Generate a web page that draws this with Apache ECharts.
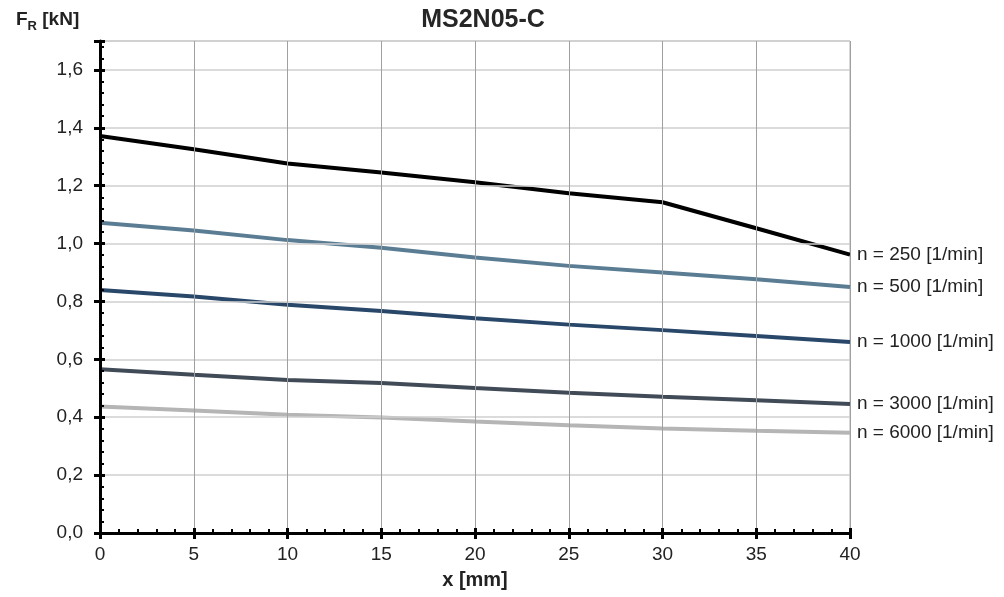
<!DOCTYPE html>
<html>
<head>
<meta charset="utf-8">
<script src="https://cdn.jsdelivr.net/npm/echarts@6/dist/echarts.min.js"></script>
<style>html,body{margin:0;padding:0;background:#fff}#c{width:1004px;height:597px}</style>
</head>
<body>
<div id="c"></div>
<script>
var xValues = [0, 5, 10, 15, 20, 25, 30, 35, 40];
var n250  = [1.372, 1.326, 1.277, 1.246, 1.212, 1.174, 1.143, 1.053, 0.962];
var n500  = [1.072, 1.045, 1.012, 0.986, 0.952, 0.923, 0.900, 0.877, 0.850];
var n1000 = [0.840, 0.817, 0.789, 0.767, 0.742, 0.720, 0.701, 0.681, 0.660];
var n3000 = [0.566, 0.547, 0.529, 0.518, 0.501, 0.485, 0.471, 0.459, 0.446];
var n6000 = [0.437, 0.423, 0.409, 0.399, 0.385, 0.372, 0.361, 0.353, 0.346];
var seriesNames = ['n = 250 [1/min]', 'n = 500 [1/min]', 'n = 1000 [1/min]', 'n = 3000 [1/min]', 'n = 6000 [1/min]'];
var seriesColors = ['#000000', '#5a7d94', '#284769', '#414b57', '#b5b5b5'];
var yTickLabels = ['0,0', '0,2', '0,4', '0,6', '0,8', '1,0', '1,2', '1,4', '1,6'];

var allData = [n250, n500, n1000, n3000, n6000];
var font = 'Liberation Sans, Arial, sans-serif';
var chart = echarts.init(document.getElementById('c'));

function pairs(arr) { return arr.map(function (v, i) { return [xValues[i], v]; }); }

var series = allData.map(function (d, i) {
  return {
    type: 'line', name: seriesNames[i], data: pairs(d),
    xAxisIndex: 0, yAxisIndex: 0,
    showSymbol: false, symbol: 'none',
    lineStyle: { color: seriesColors[i], width: 4 },
    itemStyle: { color: seriesColors[i] },
    endLabel: { show: true, formatter: seriesNames[i], color: '#222', fontSize: 19, fontFamily: font, distance: 7 },
    z: 5 - i + 3
  };
});

var yLabelFmt = function (v) {
  var idx = Math.round(v / 0.2);
  return (Math.abs(v - idx * 0.2) < 1e-6 && idx < yTickLabels.length) ? yTickLabels[idx] : '';
};

chart.setOption({
  animation: false,
  backgroundColor: '#fff',
  title: [
    { text: 'MS2N05-C', left: 478, top: 3, textAlign: 'center',
      textStyle: { fontFamily: font, fontSize: 25, fontWeight: 'bold', color: '#262626' } },
    { text: '{b|F}{s|R}{b| [kN]}', left: 11, top: 5,
      textStyle: { rich: {
        b: { fontFamily: font, fontSize: 19, fontWeight: 'bold', color: '#222', verticalAlign: 'bottom' },
        s: { fontFamily: font, fontSize: 13, fontWeight: 'bold', color: '#222', verticalAlign: 'bottom', padding: [0, 0, -4, 0] }
      } } }
  ],
  grid: { left: 100, right: 154, top: 41, bottom: 64, show: true, borderColor: '#b0b0b0', borderWidth: 1 },
  xAxis: [
    { type: 'value', min: 0, max: 40, interval: 5,
      name: 'x [mm]', nameLocation: 'middle', nameGap: 37,
      nameTextStyle: { fontFamily: font, fontSize: 20, fontWeight: 'bold', color: '#222' },
      axisLine: { show: true, onZero: false, lineStyle: { color: '#000', width: 3 } },
      axisTick: { show: true, inside: true, length: 5, lineStyle: { color: '#000', width: 3 } },
      minorTick: { show: true, splitNumber: 5, length: 4, lineStyle: { color: '#000', width: 2 } },
      axisLabel: { fontFamily: font, fontSize: 19, color: '#222', margin: 12 },
      splitLine: { show: true, lineStyle: { color: '#a0a0a0', width: 1 } },
      z: 10 },
    { type: 'value', min: 0, max: 40, interval: 5, position: 'bottom', gridIndex: 0,
      axisLine: { show: false, onZero: false },
      axisTick: { show: true, inside: false, length: 6, lineStyle: { color: '#000', width: 3 } },
      axisLabel: { show: false }, splitLine: { show: false }, z: 10 }
  ],
  yAxis: [
    { type: 'value', min: 0, max: 1.7, interval: 0.2,
      axisLine: { show: true, onZero: false, lineStyle: { color: '#000', width: 3 } },
      axisTick: { show: true, inside: true, length: 5, lineStyle: { color: '#000', width: 3 } },
      minorTick: { show: true, splitNumber: 5, length: 4, lineStyle: { color: '#000', width: 2 } },
      axisLabel: { fontFamily: font, fontSize: 19, color: '#222', margin: 17, formatter: yLabelFmt },
      splitLine: { show: true, lineStyle: { color: '#cfcfcf', width: 1.5 } },
      z: 10 },
    { type: 'value', min: 0, max: 1.7, interval: 0.2, position: 'left', gridIndex: 0,
      axisLine: { show: false, onZero: false },
      axisTick: { show: true, inside: false, length: 6, lineStyle: { color: '#000', width: 3 } },
      axisLabel: { show: false }, splitLine: { show: false }, z: 10 }
  ],
  series: series
});
</script>
</body>
</html>
